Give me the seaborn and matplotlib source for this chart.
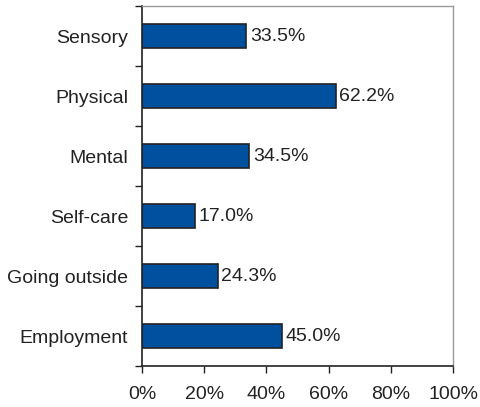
import seaborn as sns
import pandas as pd
import matplotlib.pyplot as plt
import numpy as np
from matplotlib.ticker import FixedLocator

categories = ['Sensory', 'Physical', 'Mental', 'Self-care', 'Going outside', 'Employment']
values = [33.5, 62.2, 34.5, 17.0, 24.3, 45.0]
xticks = [0, 20, 40, 60, 80, 100]


def main():
    sns.set_style('white')
    plt.rcParams['font.family'] = ['Liberation Sans', 'DejaVu Sans']
    df = pd.DataFrame({'category': categories, 'value': values})

    fig, ax = plt.subplots(figsize=(4.8, 4.07), dpi=100)
    fig.subplots_adjust(left=0.296, right=0.944, top=0.985, bottom=0.10)

    sns.barplot(data=df, x='value', y='category', ax=ax, orient='h',
                color='#0050a0', saturation=1, width=0.4,
                edgecolor='#222222', linewidth=1.2)

    fs = 14
    for i, v in enumerate(values):
        ax.text(v + 1.2, i, f'{v:.1f}%', va='center', ha='left', fontsize=fs, color='#222222')

    ax.set_xlim(0, 100)
    ax.set_ylim(len(categories) - 0.5, -0.5)
    ax.set_xticks(xticks)
    ax.set_xticklabels([f'{t}%' for t in xticks], fontsize=fs, color='#222222')
    ax.set_yticklabels(categories, fontsize=fs, color='#222222')
    ax.yaxis.set_minor_locator(FixedLocator(np.arange(-0.5, len(categories), 1)))
    ax.tick_params(axis='y', which='major', length=0, pad=10)
    ax.tick_params(axis='y', which='minor', length=5, width=1, color='#222222', direction='out', left=True)
    ax.tick_params(axis='x', which='major', length=5, width=1, color='#222222', direction='out', bottom=True, pad=9)
    ax.set_xlabel('')
    ax.set_ylabel('')

    for side in ['left', 'bottom']:
        ax.spines[side].set_color('#222222')
        ax.spines[side].set_linewidth(1.2)
    for side in ['top', 'right']:
        ax.spines[side].set_color('#999999')
        ax.spines[side].set_linewidth(1.0)

    fig.savefig('out.png', dpi=100)


if __name__ == "__main__":
    main()
